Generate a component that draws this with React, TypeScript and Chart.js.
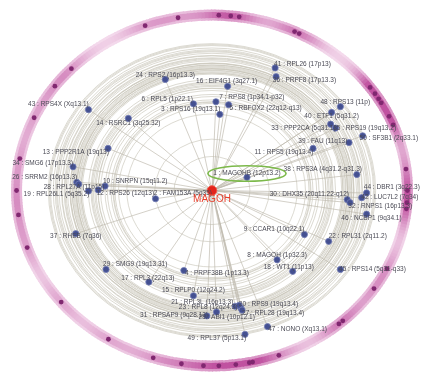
import React, { useEffect, useRef } from "react";
import { Chart, registerables } from "chart.js";

Chart.register(...registerables);

// Interaction partners of the hub gene (id : gene (locus))
const nodeLabels = [
  "41 : RPL26 (17p13)", "36 : PRPF8 (17p13.3)", "24 : RPS2 (16p13.3)", "16 : EIF4G1 (3q27.1)",
  "6 : RPL5 (1p22.1)", "7 : RPS8 (1p34.1-p32)", "5 : RBFOX2 (22q12-q13)", "3 : RPS16 (19q13.1)",
  "43 : RPS4X (Xq13.1)", "14 : RSRC1 (3q25.32)", "48 : RPS13 (11p)", "40 : ETF1 (5q31.2)",
  "33 : PPP2CA (5q31.1)", "35 : RPS19 (19q13.2)", "50 : SF3B1 (2q33.1)", "39 : FAU (11q13)",
  "11 : RPS5 (19q13.4)", "13 : PPP2R1A (19q13)", "34 : SMG6 (17p13.3)", "38 : RPS3A (4q31.2-q31.3)",
  "1 : MAGOHB (12p13.2)", "26 : SRRM2 (16p13.3)", "28 : RPL27A (11p15)", "10 : SNRPN (15q11.2)",
  "19 : RPL26L1 (5q35.2)", "12 : RPS26 (12q13)", "2 : FAM153A (5q35)", "44 : DBR1 (3q22.3)",
  "42 : LUC7L2 (7q34)", "30 : DHX35 (20q11.22-q12)", "32 : RNPS1 (16p13.3)", "46 : NCBP1 (9q34.1)",
  "37 : RHEB (7q36)", "9 : CCAR1 (10q22.1)", "22 : RPL31 (2q11.2)", "8 : MAGOH (1p32.3)",
  "18 : WT1 (11p13)", "45 : RPS14 (5q31-q33)", "29 : SMG9 (19q13.31)", "4 : PRPF38B (1p13.3)",
  "17 : RPL3 (22q13)", "15 : RPLP0 (12q24.2)", "21 : RPL3L (16p13.3)", "23 : RPL8 (12q24.3)",
  "20 : RPS9 (19q13.4)", "27 : RPL28 (19q13.4)", "25 : ABI1 (10p12.1)", "31 : RPSAP9 (9q28.13)",
  "49 : RPL37 (5p13.1)", "47 : NONO (Xq13.1)",
];

// Node positions in the radial layout (hub at 0,0; outer ring at radius 1)
const nodeX = [
  0.323, 0.328, -0.239, 0.080, -0.095, 0.020, 0.085, 0.040, -0.632, -0.428,
  0.657, 0.612, 0.607, 0.632, 0.771, 0.701, 0.517, -0.532, -0.711, 0.741,
  0.179, -0.692, -0.682, -0.547, -0.632, -0.582, -0.289, 0.791, 0.766, 0.692,
  0.706, 0.791, -0.697, 0.473, 0.597, 0.333, 0.413, 0.657, -0.542, -0.144,
  -0.323, -0.095, 0.119, 0.148, 0.139, 0.154, 0.023, -0.026, 0.169, 0.284,
];
const nodeY = [
  0.699, 0.649, 0.633, 0.594, 0.494, 0.506, 0.489, 0.434, 0.461, 0.411,
  0.478, 0.445, 0.378, 0.356, 0.312, 0.273, 0.240, 0.240, 0.135, 0.091,
  0.075, 0.047, 0.036, 0.025, -0.003, 0.003, -0.047, -0.014, -0.041, -0.052,
  -0.069, -0.135, -0.246, -0.251, -0.290, -0.395, -0.461, -0.450, -0.450, -0.456,
  -0.522, -0.600, -0.660, -0.670, -0.655, -0.682, -0.693, -0.715, -0.820, -0.776,
];
// Label anchor positions (same coordinate system)
const labelX = [
  0.463, 0.473, -0.239, 0.075, -0.229, 0.204, 0.274, -0.109, -0.786, -0.428,
  0.682, 0.612, 0.468, 0.781, 0.905, 0.567, 0.368, -0.697, -0.866, 0.567,
  0.179, -0.856, -0.706, -0.393, -0.796, -0.443, -0.149, 0.920, 0.910, 0.498,
  0.861, 0.816, -0.697, 0.318, 0.746, 0.333, 0.393, 0.821, -0.393, 0.025,
  -0.328, -0.095, -0.050, -0.020, 0.289, 0.313, 0.075, -0.194, 0.025, 0.438,
];
const labelY = [
  0.721, 0.627, 0.660, 0.622, 0.522, 0.533, 0.467, 0.461, 0.494, 0.384,
  0.506, 0.423, 0.356, 0.356, 0.296, 0.279, 0.218, 0.218, 0.157, 0.119,
  0.097, 0.075, 0.019, 0.052, -0.019, -0.014, -0.014, 0.019, -0.041, -0.019,
  -0.091, -0.157, -0.262, -0.218, -0.262, -0.367, -0.439, -0.450, -0.423, -0.472,
  -0.500, -0.566, -0.638, -0.666, -0.649, -0.699, -0.721, -0.710, -0.843, -0.793,
];

// Dots on the outer ring (angle in degrees, counter-clockwise from 3 o'clock)
const ringDotAngles = [
  110, 100, 88, 84.5, 82, 65, 63.5, 36, 33.5, 31.5, 30, 25, 22, 7, 0, -4, -6,
  -26.5, -34, -48, -49.5, -70, -78, -79, -83, -88, -92.5, -99, -107.5, -122,
  -140.5, -161, -172, 180, 169.5, 155.5, 143.5, 136,
];

const hubLabel = "MAGOH";
const highlightIndex = 20; // 1 : MAGOHB

const bgPlugin = {
  id: "radialBg",
  beforeDatasetsDraw(chart: any) {
    const ctx = chart.ctx;
    const xs = chart.scales.x;
    const ys = chart.scales.y;
    const cx = xs.getPixelForValue(0);
    const cy = ys.getPixelForValue(0);
    const ux = xs.getPixelForValue(1) - cx;
    const uy = cy - ys.getPixelForValue(1);
    ctx.save();
    // orbit circles
    ctx.strokeStyle = "rgba(200,196,184,0.8)";
    ctx.lineWidth = 0.8;
    for (let i = 0; i < nodeX.length; i++) {
      const r = Math.hypot(nodeX[i], nodeY[i]);
      ctx.beginPath();
      ctx.ellipse(cx, cy, r * ux, r * uy, 0, 0, Math.PI * 2);
      ctx.stroke();
    }
    // spokes
    ctx.strokeStyle = "rgba(190,186,174,0.85)";
    for (let i = 0; i < nodeX.length; i++) {
      ctx.beginPath();
      ctx.moveTo(cx, cy);
      ctx.lineTo(xs.getPixelForValue(nodeX[i]), ys.getPixelForValue(nodeY[i]));
      ctx.stroke();
    }
    // outer pink band with glow around dots
    const light = [249, 232, 244];
    const dark = [192, 82, 160];
    const passes = [
      { w: 11, k: 0.55 },
      { w: 6, k: 1 },
    ];
    for (const p of passes) {
      for (let a = -180; a < 180; a += 1) {
        let I = 0.12;
        for (const d of ringDotAngles) {
          const dd = Math.abs(((a + 0.5 - d + 540) % 360) - 180);
          I += Math.exp(-((dd / 8) ** 2)) * 0.3;
        }
        I = Math.min(1, I) * p.k;
        const c = light.map((l, k) => Math.round(l + (dark[k] - l) * I));
        ctx.strokeStyle = `rgb(${c[0]},${c[1]},${c[2]})`;
        ctx.lineWidth = p.w;
        ctx.beginPath();
        ctx.ellipse(cx, cy, ux, uy, 0, -((a + 1.3) * Math.PI) / 180, -(a * Math.PI) / 180, false);
        ctx.stroke();
      }
    }
    ctx.restore();
  },
  afterDatasetsDraw(chart: any) {
    const ctx = chart.ctx;
    const xs = chart.scales.x;
    const ys = chart.scales.y;
    ctx.save();
    ctx.font = "6.5px 'Liberation Sans', Arial, sans-serif";
    ctx.fillStyle = "#4a4a55";
    ctx.textAlign = "center";
    ctx.textBaseline = "middle";
    for (let i = 0; i < nodeLabels.length; i++) {
      ctx.fillText(nodeLabels[i], xs.getPixelForValue(labelX[i]), ys.getPixelForValue(labelY[i]));
    }
    // hub label
    ctx.font = "10px 'Liberation Sans', Arial, sans-serif";
    ctx.fillStyle = "#e8402e";
    ctx.fillText(hubLabel, xs.getPixelForValue(0), ys.getPixelForValue(0) + 9);
    // highlight ellipse
    const hx = xs.getPixelForValue(labelX[highlightIndex]);
    const hy = ys.getPixelForValue(labelY[highlightIndex]);
    const rx = xs.getPixelForValue(0.2) - xs.getPixelForValue(0);
    const ry = ys.getPixelForValue(0) - ys.getPixelForValue(0.044);
    ctx.strokeStyle = "#7cb94a";
    ctx.lineWidth = 1.6;
    ctx.beginPath();
    ctx.ellipse(hx, hy, rx, ry, 0, 0, Math.PI * 2);
    ctx.stroke();
    ctx.restore();
  },
};

export default function App() {
  const ref = useRef<HTMLCanvasElement | null>(null);
  useEffect(() => {
    document.body.style.margin = "0";
    const canvas = ref.current!;
    const ringDots = ringDotAngles.map((a) => ({
      x: Math.cos((a * Math.PI) / 180),
      y: Math.sin((a * Math.PI) / 180),
    }));
    const nodes = nodeX.map((x, i) => ({ x, y: nodeY[i] }));
    const chart = new Chart(canvas, {
      type: "scatter",
      data: {
        datasets: [
          {
            label: hubLabel,
            data: [{ x: 0, y: 0 }],
            pointRadius: 4.8,
            pointBackgroundColor: "#e3241c",
            pointBorderColor: "#f05a4a",
            pointBorderWidth: 1,
          },
          {
            label: "partners",
            data: nodes,
            pointRadius: 3.1,
            pointBackgroundColor: "rgb(68,80,145)",
            pointBorderColor: "rgb(115,125,182)",
            pointBorderWidth: 0.8,
          },
          {
            label: "ring",
            data: ringDots,
            pointRadius: 2.4,
            pointBackgroundColor: "rgb(128,40,112)",
            pointBorderWidth: 0,
          },
        ],
      },
      options: {
        animation: false,
        responsive: false,
        maintainAspectRatio: false,
        layout: { padding: 0 },
        plugins: { legend: { display: false }, tooltip: { enabled: false } },
        scales: {
          x: { type: "linear", min: -1.055, max: 1.05, display: false },
          y: { type: "linear", min: -1.053, max: 1.053, display: false },
        },
      },
      plugins: [bgPlugin],
    });
    return () => chart.destroy();
  }, []);
  return (
    <div style={{ width: 423, height: 381, background: "#fff" }}>
      <canvas ref={ref} width={423} height={381} style={{ display: "block" }} />
    </div>
  );
}
